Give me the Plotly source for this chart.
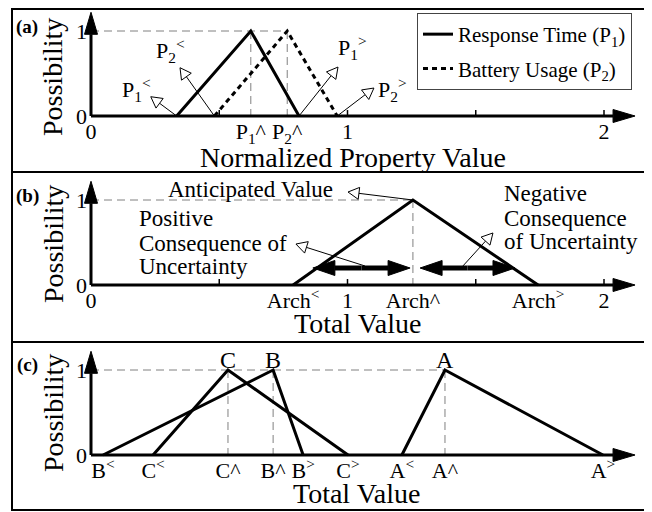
import math
import plotly.graph_objects as go

# ---- values ----
poss = [0, 1, 0]                      # possibility at lower / anticipated / upper value

# (a) normalized property values (triangular fuzzy numbers)
p1_x = [0.334, 0.623, 0.811]          # Response Time: P1<, P1^, P1>
p2_x = [0.481, 0.765, 0.960]          # Battery Usage: P2<, P2^, P2>
num_ticks = [0.5, 1, 1.5, 2]

# (b) total value of one architecture
arch_x = [0.788, 1.255, 1.743]        # Arch<, Arch^, Arch>

# (c) total values of three architectures
a_x = [1.212, 1.380, 1.996]
b_x = [0.047, 0.710, 0.827]
c_x = [0.242, 0.534, 1.002]

# ---- page geometry (pixels of the browser window) ----
PAGE_W, PAGE_H = 652, 512
OFF = 8                               # the page body margin in front of the figure
W, H = PAGE_W - OFF, PAGE_H - OFF     # figure size so it ends at the window edge
X0, XS, YS = 91, 256.5, 85            # page column of x=0, pixels per unit in x and y
ZERO = [116, 285, 455]                # page row of possibility 0 in each panel
BAND = [(10, 171), (174, 340), (344, 509)]
X_TIP, Y_TIP = 2.121, 1.22
FONT = "Liberation Serif"
GUIDE = "#808080"

fig = go.Figure()


def px_paper(px, py):
    return (px - OFF) / W, 1 - (py - OFF) / H


def axes(i):
    return ("x", "y") if i == 0 else ("x%d" % (i + 1), "y%d" % (i + 1))


def to_px(i, x, y):
    return X0 + XS * x, ZERO[i] - YS * y


def to_data(i, px, py):
    return (px - X0) / XS, (ZERO[i] - py) / YS


def line(i, xs, ys, width=3, dash=None, color="black", name=None):
    xa, ya = axes(i)
    fig.add_trace(go.Scatter(
        x=xs, y=ys, xaxis=xa, yaxis=ya, mode="lines",
        line=dict(color=color, width=width, dash=dash),
        name=name, showlegend=name is not None, legendgroup=name,
        hoverinfo="skip"))


def arrow(i, x0, y0, x1, y1, head_len, head_w, shaft=1, fill="white"):
    (sx, sy), (tx, ty) = to_px(i, x0, y0), to_px(i, x1, y1)
    d = math.hypot(tx - sx, ty - sy)
    ux, uy = (tx - sx) / d, (ty - sy) / d
    bx, by = tx - ux * head_len, ty - uy * head_len
    nx, ny = -uy * head_w / 2, ux * head_w / 2
    shaft_pts = [to_data(i, sx, sy), to_data(i, bx, by)]
    line(i, [p[0] for p in shaft_pts], [p[1] for p in shaft_pts], width=shaft)
    head = [to_data(i, *p) for p in [(tx, ty), (bx + nx, by + ny), (bx - nx, by - ny), (tx, ty)]]
    xa, ya = axes(i)
    fig.add_trace(go.Scatter(
        x=[p[0] for p in head], y=[p[1] for p in head], xaxis=xa, yaxis=ya,
        mode="lines", fill="toself", fillcolor=fill,
        line=dict(color="black", width=1), showlegend=False, hoverinfo="skip"))


def text(s, x, y, size=22, ref=None, xanchor="center", **kw):
    font = dict(family=FONT, size=size, color="black")
    if ref is None:
        px, py = px_paper(x, y)
        fig.add_annotation(text=s, x=px, y=py, xref="paper", yref="paper",
                           xanchor=xanchor, yanchor="middle", showarrow=False, font=font, **kw)
    else:
        xa, ya = axes(ref)
        fig.add_annotation(text=s, x=x, y=y, xref=xa, yref=ya,
                           xanchor=xanchor, yanchor="middle", showarrow=False, font=font, **kw)


def guides(i, peaks):
    line(i, [0, max(peaks)], [1, 1], width=1, dash="8px,5px", color=GUIDE)
    for p in peaks:
        line(i, [p, p], [1, 0], width=1, dash="8px,5px", color=GUIDE)


def frame_axes(i, ticks):
    for t in ticks:
        line(i, [t, t], [0, 0.07], width=1.5)
    arrow(i, 0, 0, X_TIP, 0, 22, 13, shaft=3, fill="black")
    arrow(i, 0, 0, 0, Y_TIP, 22, 13, shaft=3, fill="black")


# ---- panel (a) ----
guides(0, [p1_x[1], p2_x[1]])
line(0, p1_x, poss, name="Response Time (P<sub>1</sub>)")
line(0, p2_x, poss, dash="5px,4px", name="Battery Usage (P<sub>2</sub>)")
arrow(0, p1_x[0], 0, 0.233, 0.227, 11, 12)
arrow(0, p2_x[0], 0, 0.347, 0.568, 11, 12)
arrow(0, p1_x[2], 0, 0.963, 0.576, 11, 12)
arrow(0, p2_x[2], 0, 1.103, 0.329, 11, 12)
frame_axes(0, num_ticks)
text("P<sub>1</sub><sup>&lt;</sup>", 0.179, 0.306, ref=0)
text("P<sub>2</sub><sup>&lt;</sup>", 0.308, 0.776, ref=0)
text("P<sub>1</sub><sup>&gt;</sup>", 1.018, 0.80, ref=0)
text("P<sub>2</sub><sup>&gt;</sup>", 1.177, 0.306, ref=0)

# ---- panel (b) ----
guides(1, [arch_x[1]])
line(1, arch_x, poss)
arrow(1, arch_x[1], 1, 1.002, 1.094, 11, 12)
arrow(1, 1.068, 0.224, 0.799, 0.482, 11, 12)
arrow(1, 1.450, 0.224, 1.567, 0.612, 11, 12)
for lo, hi in [(0.865, 1.244), (1.283, 1.653)]:
    mid = (lo + hi) / 2
    arrow(1, mid, 0.2, lo, 0.2, 22, 15, shaft=5, fill="black")
    arrow(1, mid, 0.2, hi, 0.2, 22, 15, shaft=5, fill="black")
frame_axes(1, num_ticks)
text("Anticipated Value", 0.620, 1.129, size=23, ref=1)
for s, yy in [("Positive", 0.788), ("Consequence of", 0.494), ("Uncertainty", 0.212)]:
    text(s, 0.179, yy, size=23, ref=1, xanchor="left")
for s, yy in [("Negative", 1.082), ("Consequence", 0.788), ("of Uncertainty", 0.506)]:
    text(s, 1.602, yy, size=23, ref=1, xanchor="left")

# ---- panel (c) ----
guides(2, [c_x[1], b_x[1], a_x[1]])
for xs in (a_x, b_x, c_x):
    line(2, xs, poss)
frame_axes(2, [])
for s, xs in [("C", c_x), ("B", b_x), ("A", a_x)]:
    text(s, xs[1], 1.12, size=24, ref=2)

# ---- tick labels ----
lt, gt = "<sup>&lt;</sup>", "<sup>&gt;</sup>"
tick_sets = [
    ([0, p1_x[1], p2_x[1], 1, 2], ["0", "P<sub>1</sub>^", "P<sub>2</sub>^", "1", "2"]),
    ([0, arch_x[0], 1, arch_x[1], arch_x[2], 2], ["0", "Arch" + lt, "1", "Arch^", "Arch" + gt, "2"]),
    ([b_x[0], c_x[0], c_x[1], b_x[1], b_x[2], c_x[2], a_x[0], a_x[1], a_x[2]],
     ["B" + lt, "C" + lt, "C^", "B^", "B" + gt, "C" + gt, "A" + lt, "A^", "A" + gt]),
]
for i in range(3):
    top, bot = BAND[i]
    sfx = "" if i == 0 else str(i + 1)
    vals, labels = tick_sets[i]
    y_lo, y_hi = px_paper(0, bot)[1], px_paper(0, top)[1]
    fig.update_layout(**{
        "xaxis" + sfx: dict(domain=[0, 1], range=[(OFF - X0) / XS, (PAGE_W - X0) / XS],
                            anchor="free", position=px_paper(0, ZERO[i])[1], automargin=False,
                            tickvals=vals, ticktext=labels, ticks="",
                            showgrid=False, zeroline=False, showline=False,
                            tickfont=dict(family=FONT, size=22, color="black")),
        "yaxis" + sfx: dict(domain=[y_lo, y_hi],
                            range=[(ZERO[i] - bot) / YS, (ZERO[i] - top) / YS],
                            anchor="free", position=px_paper(X0, 0)[0], automargin=False,
                            tickvals=[0, 1], ticktext=["0", "1"], ticks="",
                            ticklabelstandoff=4,
                            showgrid=False, zeroline=False, showline=False,
                            tickfont=dict(family=FONT, size=22, color="black")),
    })

# ---- panel labels and titles ----
for s, yy in [("(a)", 27), ("(b)", 196), ("(c)", 365)]:
    text("<b>%s</b>" % s, 27, yy, size=19)
for yy in (77, 244, 413):
    text("Possibility", 53, yy, size=28, textangle=-90)
text("Normalized Property Value", 353, 157, size=28)
text("Total Value", 357, 323, size=28)
text("Total Value", 356, 493, size=28)

# ---- outer frame and separators ----
fx0, fy1 = px_paper(12, OFF + 1)
fx1, fy0 = px_paper(645, 510)
fig.add_shape(type="rect", xref="paper", yref="paper", x0=fx0, x1=fx1, y0=fy0, y1=fy1,
              line=dict(color="black", width=2))
for yy in (172, 342):
    fig.add_shape(type="line", xref="paper", yref="paper", x0=fx0, x1=fx1,
                  y0=px_paper(0, yy)[1], y1=px_paper(0, yy)[1],
                  line=dict(color="black", width=2))

lx, ly = px_paper(417, 13)
fig.update_layout(
    template="none",
    width=W, height=H, margin=dict(l=0, r=0, t=0, b=0),
    paper_bgcolor="white", plot_bgcolor="white",
    font=dict(family=FONT, size=22, color="black"),
    legend=dict(x=lx, y=ly, xanchor="left", yanchor="top",
                bordercolor="#444", borderwidth=1, bgcolor="white",
                font=dict(family=FONT, size=21), tracegroupgap=4),
)

fig.write_html("out.html")
